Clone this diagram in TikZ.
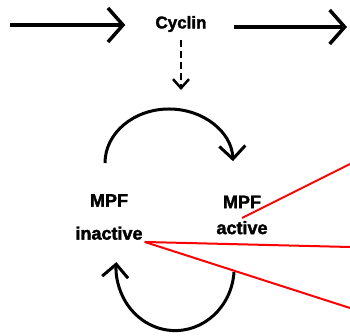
\documentclass[tikz,border=0pt]{standalone}
\usepackage{fontspec}
\setmainfont{Liberation Sans}[BoldFeatures={FakeBold=2}]
\usetikzlibrary{arrows.meta,positioning}

\begin{document}
\begin{tikzpicture}[
  x=1pt, y=1pt,
  every node/.style={font=\bfseries\fontsize{18}{26}\selectfont, align=center,
    inner sep=2pt},
  flow/.style={line width=3.5pt, -{Straight Barb[length=15pt,width=34pt]}},
  cycle/.style={line width=3pt, -{Straight Barb[length=13pt,width=26pt]}},
  feed/.style={dash pattern=on 7pt off 4pt, line width=2.5pt,
    -{Straight Barb[length=9pt,width=16pt]}},
  link/.style={red, line width=2pt}
]
\useasboundingbox (0,0) rectangle (350,336);

\node (cyclin) at (181,312) {\fontsize{17}{20}\selectfont Cyclin};
\node (inactive) at (109,119) {MPF\\[7pt]inactive};
\node (active) at (242,121) {MPF\\active};

\coordinate (in) at (10,311);
\coordinate (out) at (347,309);
\coordinate (mpfin) at (181,246);
\coordinate (topstart) at (105,173);
\coordinate (botstart) at (234,64);
\coordinate (r1) at (350,172);
\coordinate (r2) at (350,89);
\coordinate (r3) at (350,28);

\draw[flow, shorten >=28pt] (in) -- (cyclin.west |- in);
\draw[flow, shorten <=25pt] (cyclin.east |- out) -- (out);
\draw[feed, shorten <=6pt] (cyclin) -- (mpfin);

% activation / inactivation loop
\draw[cycle] (topstart) arc[start angle=180, end angle=2, x radius=64, y radius=54];
\draw[cycle] (botstart) arc[start angle=-4, end angle=-185, x radius=59, y radius=63];

\draw[link] ([yshift=-3pt]active.center) -- (r1);
\draw[link] (inactive.south east) -- (r2);
\draw[link] (inactive.south east) -- (r3);
\end{tikzpicture}
\end{document}
